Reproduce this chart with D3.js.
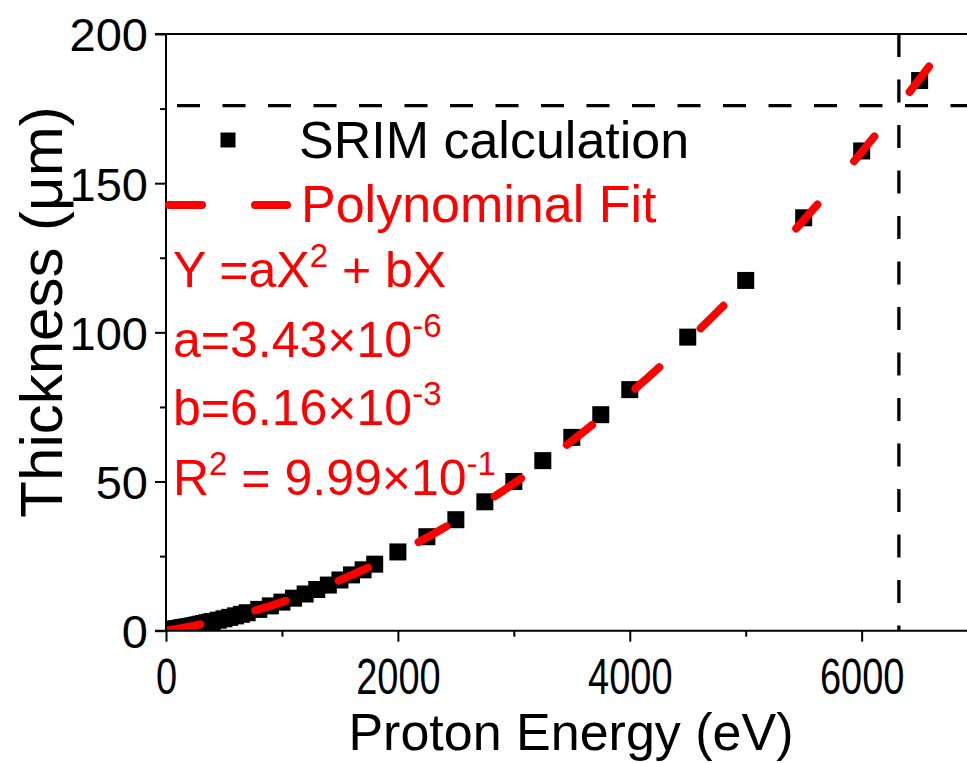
<!DOCTYPE html>
<html>
<head>
<meta charset="utf-8">
<script src="https://cdn.jsdelivr.net/npm/d3@7/dist/d3.min.js"></script>
<style>
  html, body { margin: 0; padding: 0; background: #fff; overflow: hidden; }
  svg { display: block; font-family: "Liberation Sans", Arial, sans-serif; }
</style>
</head>
<body>
<svg id="chart" width="967" height="763"></svg>
<script>
// SRIM projected range of protons versus incident energy
const energy = [10, 11, 12, 13, 14, 15, 16, 17, 18, 20, 22.5, 25, 27.5, 30, 32.5, 35, 37.5, 40, 45, 50,
  55, 60, 65, 70, 80, 90, 100, 110, 120, 130, 140, 150, 160, 170, 180, 200, 225, 250, 275, 300,
  325, 350, 375, 400, 450, 500, 550, 600, 650, 700, 800, 900, 1000, 1100, 1200, 1300, 1400, 1500,
  1600, 1700, 1800, 2000, 2250, 2500, 2750, 3000, 3250, 3500, 3750, 4000, 4500, 5000, 5500, 6000, 6500];
const thickness = [0.07, 0.08, 0.08, 0.09, 0.10, 0.10, 0.11, 0.12, 0.12, 0.14, 0.15, 0.17, 0.18, 0.20, 0.22, 0.23, 0.25, 0.26, 0.29, 0.33,
  0.36, 0.39, 0.42, 0.45, 0.52, 0.58, 0.65, 0.72, 0.79, 0.86, 0.93, 1.00, 1.08, 1.15, 1.22, 1.38, 1.58, 1.78, 1.98, 2.19,
  2.40, 2.62, 2.84, 3.06, 3.52, 3.99, 4.47, 4.97, 5.49, 6.02, 7.14, 8.32, 9.58, 10.9, 12.3, 13.8, 15.3, 17.0,
  18.7, 20.4, 22.3, 26.4, 31.5, 37.2, 43.2, 50.0, 57.0, 64.8, 72.4, 80.8, 98.4, 117.4, 138.4, 160.8, 184.4];

// Quadratic fit Y = aX^2 + bX
const fitA = 3.43e-6;
const fitB = 6.16e-3;
const fitRange = [0, 6600];

// Reference marker: thickness 176 um reached at ~6321 eV
const markerEnergy = 6321;
const markerThickness = 176;

const xTicks = [0, 2000, 4000, 6000];
const xMinor = [1000, 3000, 5000, 7000];
const yTicks = [0, 50, 100, 150, 200];
const yMinor = [25, 75, 125, 175];

const svg = d3.select("#chart");
const x = d3.scaleLinear().domain([0, 7000]).range([166, 977.6]);
const y = d3.scaleLinear().domain([0, 200]).range([630.7, 34]);

const pLeft = x(0), pRight = x(7000), pTop = y(200), pBottom = y(0);

svg.append("defs").append("clipPath").attr("id", "plotClip")
  .append("rect").attr("x", pLeft).attr("y", pTop)
  .attr("width", pRight - pLeft).attr("height", pBottom - pTop);

const plot = svg.append("g").attr("clip-path", "url(#plotClip)");

// data squares
const sq = 17;
plot.append("g").selectAll("rect").data(energy).join("rect")
  .attr("x", (d) => x(d) - sq / 2)
  .attr("y", (d, i) => y(thickness[i]) - sq / 2)
  .attr("width", sq).attr("height", sq)
  .attr("fill", "#000");

// fit curve, long-dash style
const dash = 32, gap = 56.75;
const fitDash = [34.75, gap];
for (let i = 1; i <= 7; i++) fitDash.push(dash, i === 7 ? 106.25 : gap);
fitDash.push(dash, gap, dash, gap, dash, 120);

const fitPts = d3.range(0, 661).map((i) => {
  const e = fitRange[0] + (fitRange[1] - fitRange[0]) * i / 660;
  return [e, fitA * e * e + fitB * e];
});
plot.append("path")
  .datum(fitPts)
  .attr("d", d3.line().x((d) => x(d[0])).y((d) => y(d[1])))
  .attr("fill", "none")
  .attr("stroke", "#ff0000")
  .attr("stroke-width", 8)
  .attr("stroke-linecap", "round")
  .attr("stroke-dasharray", fitDash.join(","));

// marker lines
svg.append("line")
  .attr("x1", x(0)).attr("x2", 967)
  .attr("y1", y(markerThickness)).attr("y2", y(markerThickness))
  .attr("stroke", "#000").attr("stroke-width", 3.3)
  .attr("stroke-dasharray", "23,22.5").attr("stroke-dashoffset", 34.5);
svg.append("line")
  .attr("x1", x(markerEnergy)).attr("x2", x(markerEnergy))
  .attr("y1", y(200)).attr("y2", y(0))
  .attr("stroke", "#000").attr("stroke-width", 3.3)
  .attr("stroke-dasharray", "23,22.5");

// axes
const axisColor = "#000";
const xAxis = svg.append("g").attr("transform", `translate(0,${pBottom})`)
  .call(d3.axisBottom(x).tickValues(xTicks).tickSize(11).tickPadding(6).tickFormat(d3.format("d")));
const xAxisMinor = svg.append("g").attr("transform", `translate(0,${pBottom})`)
  .call(d3.axisBottom(x).tickValues(xMinor).tickSize(6).tickFormat(""));
const yAxis = svg.append("g").attr("transform", `translate(${pLeft},0)`)
  .call(d3.axisLeft(y).tickValues(yTicks).tickSize(11).tickPadding(7).tickFormat(d3.format("d")));
const yAxisMinor = svg.append("g").attr("transform", `translate(${pLeft},0)`)
  .call(d3.axisLeft(y).tickValues(yMinor).tickSize(6).tickFormat(""));

[xAxis, xAxisMinor, yAxis, yAxisMinor].forEach((g) => {
  g.select(".domain").remove();
  g.selectAll(".tick line").attr("stroke", axisColor).attr("stroke-width", 2);
  g.selectAll("text").attr("fill", "#000")
    .style("font-family", "'Liberation Sans', Arial, sans-serif");
});
yAxis.selectAll("text").style("font-size", "47px").attr("dy", "0.36em");
// slightly condensed tick numerals along the energy axis
xAxis.selectAll("text").style("font-size", "50px")
  .attr("y", 0).attr("dy", 0)
  .attr("transform", "translate(0,63) scale(0.76,1)");

// frame: left, bottom, top
svg.append("line").attr("x1", pLeft).attr("x2", pLeft).attr("y1", pTop).attr("y2", pBottom)
  .attr("stroke", axisColor).attr("stroke-width", 2);
svg.append("line").attr("x1", pLeft - 11).attr("x2", 967).attr("y1", pBottom).attr("y2", pBottom)
  .attr("stroke", axisColor).attr("stroke-width", 2);
svg.append("line").attr("x1", pLeft - 11).attr("x2", 967).attr("y1", pTop).attr("y2", pTop)
  .attr("stroke", axisColor).attr("stroke-width", 2);

// axis titles
svg.append("text")
  .attr("x", 571).attr("y", 750)
  .attr("text-anchor", "middle")
  .style("font-size", "52px").attr("fill", "#000")
  .text("Proton Energy (eV)");
svg.append("text")
  .attr("transform", "translate(62,312) rotate(-90)")
  .attr("text-anchor", "middle")
  .style("font-size", "60px").attr("fill", "#000")
  .text("Thickness (\u03bcm)");

// legend
const legend = svg.append("g");
legend.append("rect").attr("x", 228 - 7.5).attr("y", 140 - 7.5).attr("width", 15).attr("height", 15).attr("fill", "#000");
legend.append("text").attr("x", 299).attr("y", 158).style("font-size", "52px").attr("fill", "#000")
  .text("SRIM calculation");
legend.append("line").attr("x1", 169).attr("x2", 287).attr("y1", 205).attr("y2", 205)
  .attr("stroke", "#ff0000").attr("stroke-width", 8).attr("stroke-linecap", "round")
  .attr("stroke-dasharray", "33,53");
legend.append("text").attr("x", 301).attr("y", 222).style("font-size", "52px").attr("fill", "#ff0000")
  .text("Polynominal Fit");

// fit equation and coefficients
const eqLines = [
  { y: 287, parts: [["Y =aX", 0], ["2", 1], [" + bX", 0]] },
  { y: 357, parts: [["a=3.43\u00d710", 0], ["-6", 1]] },
  { y: 425, parts: [["b=6.16\u00d710", 0], ["-3", 1]] },
  { y: 495, parts: [["R", 0], ["2", 1], [" = 9.99\u00d710", 0], ["-1", 1]] }
];
eqLines.forEach((ln) => {
  const t = svg.append("text").attr("x", 173).attr("y", ln.y)
    .style("font-size", "50px").attr("fill", "#ff0000");
  let raised = false;
  ln.parts.forEach(([str, sup]) => {
    const sp = t.append("tspan").text(str);
    if (sup && !raised) { sp.attr("dy", -20).style("font-size", "33px"); raised = true; }
    else if (!sup && raised) { sp.attr("dy", 20); raised = false; }
    else if (sup) { sp.style("font-size", "33px"); }
  });
});
</script>
</body>
</html>
